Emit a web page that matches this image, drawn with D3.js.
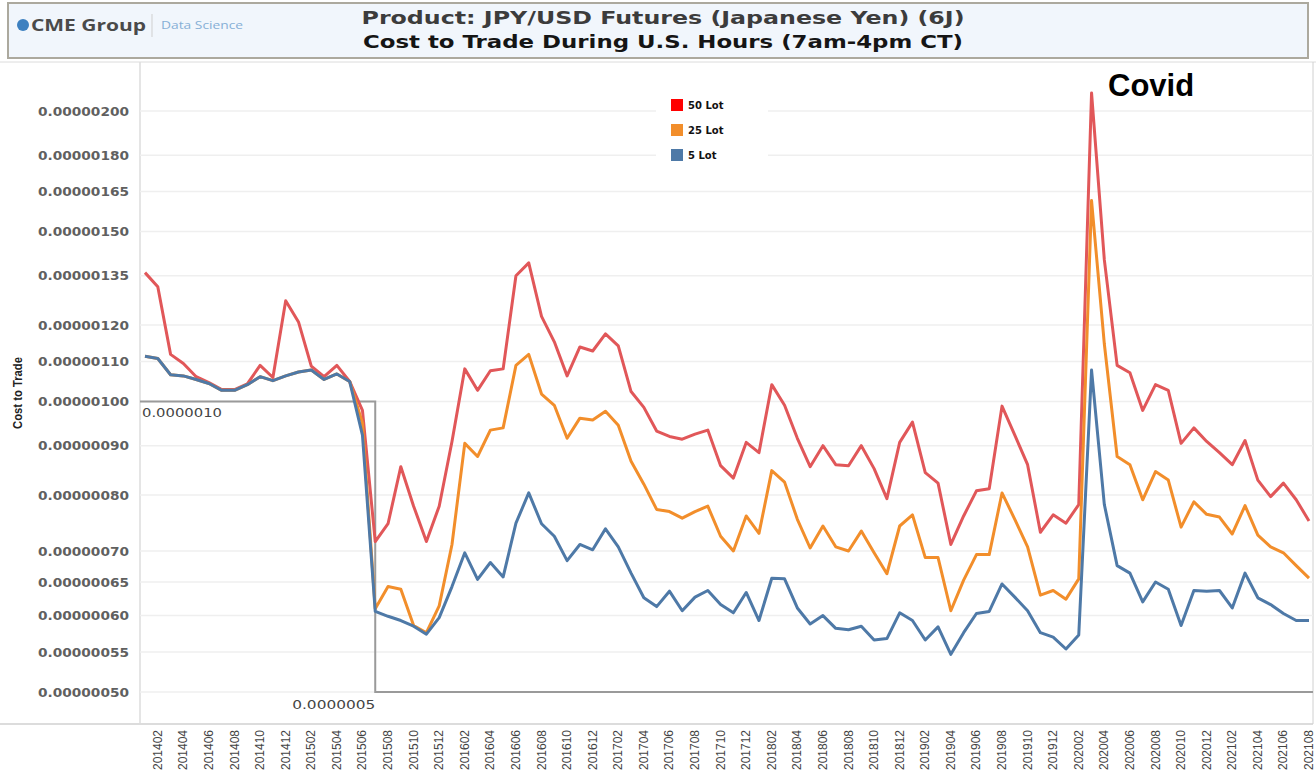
<!DOCTYPE html>
<html lang="en">
<head>
  <meta charset="UTF-8" />
  <title>JPY/USD Futures Cost to Trade</title>
  <script src="https://d3js.org/d3.v7.min.js"></script>
  <style>
    html, body {
      margin: 0;
      padding: 0;
      background: #fff;
    }
    svg { display: block; }
    .ytick { font-family: "DejaVu Sans", sans-serif; font-weight: bold; font-size: 13px; fill: #606060; }
    .xtick { font-family: "Liberation Sans", Arial, sans-serif; font-size: 12px; fill: #444; }
    .line { fill: none; stroke-width: 3px; stroke-linejoin: round; }
    .legend text { font-family: "DejaVu Sans", sans-serif; font-weight: bold; font-size: 10px; fill: #111; }
  </style>
</head>
<body>
<div id="chart"></div>

<script>
// monthly categories
const months = [
  "201401","201402","201403","201404","201405","201406","201407","201408","201409","201410","201411","201412",
  "201501","201502","201503","201504","201505","201506","201507","201508","201509","201510","201511","201512",
  "201601","201602","201603","201604","201605","201606","201607","201608","201609","201610","201611","201612",
  "201701","201702","201703","201704","201705","201706","201707","201708","201709","201710","201711","201712",
  "201801","201802","201803","201804","201805","201806","201807","201808","201809","201810","201811","201812",
  "201901","201902","201903","201904","201905","201906","201907","201908","201909","201910","201911","201912",
  "202001","202002","202003","202004","202005","202006","202007","202008","202009","202010","202011","202012",
  "202101","202102","202103","202104","202105","202106","202107","202108"
];

// cost to trade, in units of 1e-8
const lot50 = [
  136, 131.5, 111.9, 109.5, 106.1, 104.6, 102.9, 102.9, 104.3, 109, 105.9, 127.2,
  120.9, 108.8, 106.1, 109, 104.9, 97.9, 71.6, 74.7, 85.6, 77.9, 71.6, 77.9,
  90.9, 108.1, 102.7, 107.6, 108.1, 135, 139.2, 122.5, 115.3, 106.3, 113.9, 112.8,
  117.5, 114.2, 102.4, 98.6, 93.2, 92, 91.4, 92.5, 93.4, 85.8, 83.3, 90.7,
  88.5, 104.1, 99.1, 91.6, 85.6, 90, 86, 85.8, 90, 85.2, 79.3, 90.7,
  95.2, 84.4, 82.3, 71.1, 76.1, 80.8, 81.2, 98.9, 92.3, 86, 73.2, 76.3,
  74.8, 78.2, 208.8, 140.2, 109, 107.1, 97.9, 104.1, 102.7, 90.5, 93.9, 90.9,
  88.5, 86, 91.1, 82.9, 79.7, 82.3, 79.1, 75.2
];
const lot25 = [
  111.4, 110.8, 106.6, 106.3, 105.4, 104.4, 102.7, 102.7, 104.1, 106.1, 105.1, 106.3,
  107.3, 107.8, 105.4, 106.8, 104.9, 95, 61, 64.3, 63.9, 58.6, 57.6, 61.4,
  71.1, 90.5, 87.7, 93.4, 93.9, 109, 111.9, 101.8, 99.1, 91.6, 96.1, 95.7,
  97.7, 94.5, 86.7, 82.1, 77.3, 76.9, 75.7, 76.9, 77.9, 72.5, 70, 76.1,
  73, 84.8, 82.5, 75.5, 70.5, 74.3, 70.7, 70, 73.4, 69.7, 66.3, 74.3,
  76.3, 68.9, 68.9, 60.7, 65.3, 69.4, 69.4, 80.4, 75.5, 70.7, 63, 63.7,
  62.4, 65.5, 161.5, 114.7, 87.7, 86, 79.1, 84.6, 82.9, 74.1, 78.7, 76.4,
  75.9, 72.9, 78, 72.7, 70.7, 69.7, 67.6, 65.6
];
const lot5 = [
  111.4, 110.8, 106.6, 106.3, 105.4, 104.4, 102.7, 102.7, 104.1, 106.1, 105.1, 106.3,
  107.3, 107.8, 105.4, 106.8, 104.9, 92.3, 60.6, 59.9, 59.3, 58.5, 57.4, 59.7,
  64.3, 69.7, 65.4, 68.1, 65.8, 74.8, 80.4, 74.7, 72.5, 68.4, 71.1, 70.2,
  73.8, 70.7, 66.4, 62.6, 61.3, 63.6, 60.7, 62.7, 63.7, 61.6, 60.4, 63.4,
  59.3, 65.6, 65.5, 61.1, 58.8, 60, 58.2, 58, 58.5, 56.6, 56.8, 60.4,
  59.3, 56.6, 58.4, 54.7, 57.6, 60.3, 60.6, 64.7, 62.7, 60.7, 57.6, 57,
  55.4, 57.3, 107.8, 78.2, 67.6, 66.4, 62, 65, 63.9, 58.6, 63.7, 63.6,
  63.7, 61.1, 66.4, 62.6, 61.6, 60.3, 59.3, 59.3
];
const UNIT = 1e-8;

const seriesNames = ["50 Lot", "25 Lot", "5 Lot"];
const lineColors = ["#e15759", "#f28e2b", "#4e79a7"];
const legendColors = ["#ff0000", "#f28e2b", "#4e79a7"];

const yTicks = [0.0000005, 0.00000055, 0.0000006, 0.00000065, 0.0000007, 0.0000008, 0.0000009,
  0.000001, 0.0000011, 0.0000012, 0.00000135, 0.0000015, 0.00000165, 0.0000018, 0.000002];
const xTickLabels = months.filter((m, i) => i % 2 === 1);

// reference step: 0.0000010 until 201507, then 0.0000005
const refHigh = 0.000001, refLow = 0.0000005, refBreak = "201507";

const W = 1316, H = 775;
const plot = { left: 140, right: 1313, top: 62, bottom: 724 };

const svg = d3.select("#chart").append("svg")
  .attr("width", W)
  .attr("height", H);

// header
svg.append("rect")
  .attr("x", 8).attr("y", 3).attr("width", 1300).attr("height", 55)
  .attr("fill", "#f1f6fc").attr("stroke", "#aca99e").attr("stroke-width", 2);
svg.append("circle").attr("cx", 23).attr("cy", 25).attr("r", 6).attr("fill", "#3d80c0");
svg.append("text").attr("x", 31).attr("y", 31)
  .attr("textLength", 115).attr("lengthAdjust", "spacingAndGlyphs")
  .style("font-family", "'Open Sans', sans-serif").style("font-weight", "bold")
  .style("font-size", "16px").style("fill", "#4a4a4a")
  .text("CME Group");
svg.append("line").attr("x1", 152).attr("x2", 152).attr("y1", 14).attr("y2", 37)
  .attr("stroke", "#cfcfcf");
svg.append("text").attr("x", 161).attr("y", 29)
  .attr("textLength", 82).attr("lengthAdjust", "spacingAndGlyphs")
  .style("font-family", "'Open Sans', sans-serif").style("font-size", "10px").style("fill", "#86afd6")
  .text("Data Science");

svg.append("text").attr("x", 663).attr("y", 24)
  .attr("text-anchor", "middle")
  .attr("textLength", 603).attr("lengthAdjust", "spacingAndGlyphs")
  .style("font-family", "'DejaVu Sans', sans-serif").style("font-weight", "bold")
  .style("font-size", "18px").style("fill", "#3c3c3c")
  .text("Product: JPY/USD Futures (Japanese Yen) (6J)");
svg.append("text").attr("x", 663).attr("y", 48)
  .attr("text-anchor", "middle")
  .attr("textLength", 600).attr("lengthAdjust", "spacingAndGlyphs")
  .style("font-family", "'DejaVu Sans', sans-serif").style("font-weight", "bold")
  .style("font-size", "18px").style("fill", "#151515")
  .text("Cost to Trade During U.S. Hours (7am-4pm CT)");

// scales
const x = d3.scalePoint().domain(months).range([145, 1309]);
const y = d3.scaleLog().domain([0.0000005, 0.000002]).range([692, 111]);

// frame
svg.append("line").attr("x1", 0).attr("x2", W).attr("y1", plot.top).attr("y2", plot.top)
  .attr("stroke", "#dcdcdc");
svg.append("line").attr("x1", 0).attr("x2", plot.right).attr("y1", plot.bottom).attr("y2", plot.bottom)
  .attr("stroke", "#d0d0d0").attr("stroke-width", 1.5);
svg.append("line").attr("x1", plot.left).attr("x2", plot.left).attr("y1", plot.top).attr("y2", plot.bottom)
  .attr("stroke", "#dcdcdc").attr("stroke-width", 1.5);
svg.append("line").attr("x1", plot.right).attr("x2", plot.right).attr("y1", plot.top).attr("y2", plot.bottom)
  .attr("stroke", "#d0d0d0");

// gridlines + y ticks
svg.append("g").selectAll("line")
  .data(yTicks)
  .join("line")
  .attr("x1", plot.left).attr("x2", plot.right)
  .attr("y1", d => y(d)).attr("y2", d => y(d))
  .attr("stroke", "#efefef").attr("stroke-width", 1.5);

svg.append("g").selectAll("text")
  .data(yTicks)
  .join("text")
  .attr("class", "ytick")
  .attr("x", 129)
  .attr("y", d => y(d))
  .attr("dy", "0.36em")
  .attr("text-anchor", "end")
  .attr("textLength", 91).attr("lengthAdjust", "spacingAndGlyphs")
  .text(d => d3.format(".8f")(d));

svg.append("text")
  .attr("transform", "translate(22,393) rotate(-90)")
  .attr("text-anchor", "middle")
  .attr("textLength", 72).attr("lengthAdjust", "spacingAndGlyphs")
  .style("font-family", "'Liberation Sans Narrow', 'Liberation Sans', sans-serif")
  .style("font-weight", "bold")
  .style("font-size", "13px").style("fill", "#222")
  .text("Cost to Trade");

// x tick labels
svg.append("g").selectAll("text")
  .data(xTickLabels)
  .join("text")
  .attr("class", "xtick")
  .attr("transform", d => `translate(${x(d) + 4},730) rotate(-90)`)
  .attr("text-anchor", "end")
  .text(d => d);

// reference step line
const refPath = d3.line()([
  [plot.left, y(refHigh)],
  [x(refBreak), y(refHigh)],
  [x(refBreak), y(refLow)],
  [plot.right, y(refLow)]
]);
svg.append("path").attr("d", refPath)
  .attr("fill", "none").attr("stroke", "#9a9a9a").attr("stroke-width", 2);
svg.append("text").attr("x", 142).attr("y", y(refHigh) + 15)
  .attr("textLength", 80).attr("lengthAdjust", "spacingAndGlyphs")
  .style("font-family", "'DejaVu Sans', sans-serif").style("font-size", "13px").style("fill", "#444")
  .text(d3.format(".7f")(refHigh));
svg.append("text").attr("x", x(refBreak)).attr("y", y(refLow) + 17)
  .attr("text-anchor", "end")
  .attr("textLength", 83).attr("lengthAdjust", "spacingAndGlyphs")
  .style("font-family", "'DejaVu Sans', sans-serif").style("font-size", "13px").style("fill", "#444")
  .text(d3.format(".7f")(refLow));

// series lines
const series = [lot50, lot25, lot5];
const lineGen = d3.line()
  .x((d, i) => x(months[i]))
  .y(d => y(d * UNIT));

svg.append("g").selectAll("path")
  .data(series)
  .join("path")
  .attr("class", "line")
  .attr("stroke", (d, i) => lineColors[i])
  .attr("d", d => lineGen(d));

// legend
const legend = svg.append("g").attr("class", "legend");
legend.append("rect").attr("x", 656).attr("y", 88).attr("width", 112).attr("height", 82)
  .attr("fill", "#fff");
seriesNames.forEach((name, i) => {
  legend.append("rect")
    .attr("x", 671).attr("y", 99 + i * 25).attr("width", 12).attr("height", 12)
    .attr("fill", legendColors[i]);
  legend.append("text")
    .attr("x", 688).attr("y", 109 + i * 25)
    .text(name);
});

// annotation
svg.append("text").attr("x", 1108).attr("y", 96)
  .style("font-family", "'Liberation Sans', Arial, sans-serif").style("font-weight", "bold")
  .style("font-size", "31px").style("fill", "#000")
  .text("Covid");
</script>
</body>
</html>
